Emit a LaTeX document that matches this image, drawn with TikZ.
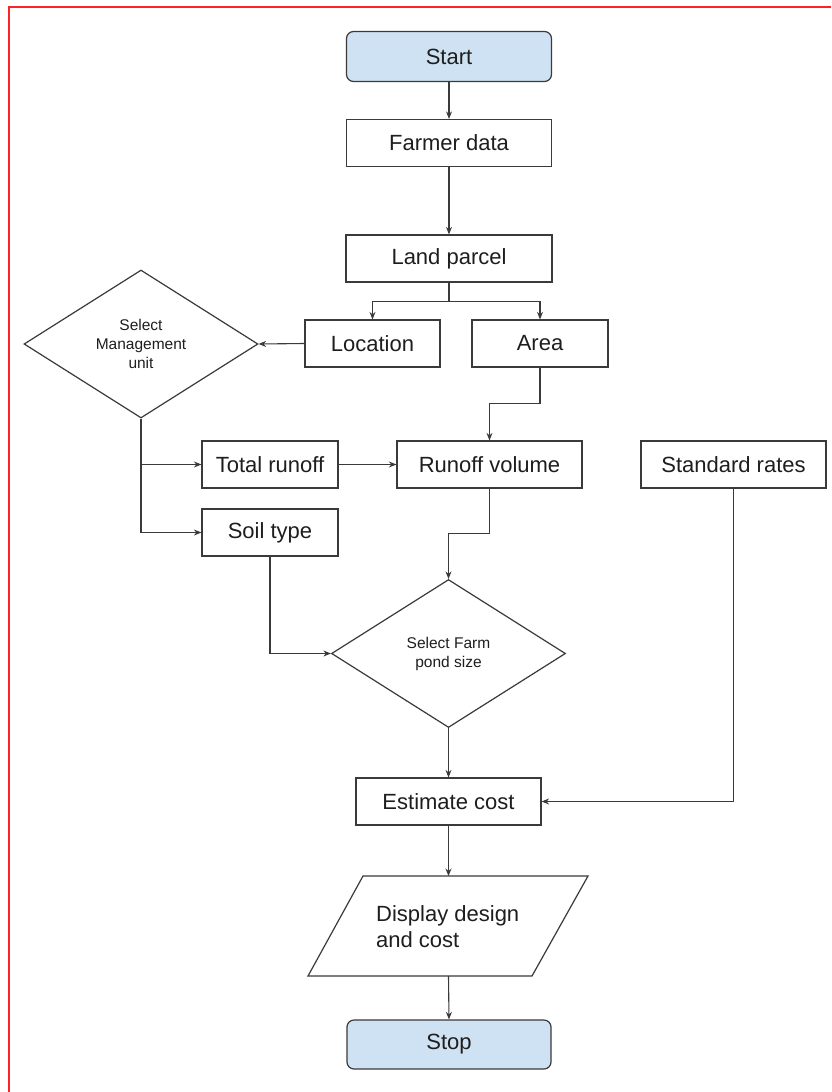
\documentclass[tikz,border=0pt]{standalone}
\usepackage{fontspec}
\setmainfont{Liberation Sans}
\usetikzlibrary{shapes.geometric,arrows.meta,calc}
\definecolor{edge}{HTML}{3A3A3A}
\definecolor{ink}{HTML}{1E1E1E}
\definecolor{termfill}{HTML}{CFE2F3}
\definecolor{frame}{HTML}{FF2222}

\begin{document}
\begin{tikzpicture}[x=1pt,y=-1pt,
  box/.style={draw=edge, line width=1.2pt, fill=white, text=ink, inner sep=0pt,
              minimum height=47pt, font=\fontsize{22}{25}\selectfont},
  term/.style={box, fill=termfill, rounded corners=7pt, minimum height=50pt},
  decision/.style={diamond, draw=edge, line width=1.2pt, fill=white, text=ink,
              inner sep=0pt, align=center, minimum width=234pt, minimum height=148pt,
              font=\fontsize{15.5}{19}\selectfont},
  flow/.style={draw=edge, line width=1.1pt, -{Stealth[length=7.5pt,width=6pt]}},
  wire/.style={draw=edge, line width=1.2pt}
]
% canvas
\fill[white] (0,0) rectangle (831,1092);
\useasboundingbox (0,0) rectangle (831,1092);
\draw[frame, line width=2.5pt] (9,1092) -- (9,7) -- (831,7);

% nodes
\node[term, minimum width=205pt] (start) at (449,56.5) {Start};
\node[box, minimum width=205pt] (farmer) at (449,143) {Farmer data};
\node[box, minimum width=206pt] (land) at (449,258.5) {Land parcel};
\node[box, minimum width=135pt] (loc) at (372.5,343.5) {Location};
\node[box, minimum width=136pt] (area) at (540,343.5) {Area};
\node[decision] (mgmt) at (141,344) {Select\\Management\\unit};
\node[box, minimum width=136pt] (total) at (270,464.5) {Total runoff};
\node[box, minimum width=136pt] (soil) at (270,532.5) {Soil type};
\node[box, minimum width=185pt] (runoff) at (489.5,464.5) {Runoff volume};
\node[box, minimum width=185pt] (rates) at (733.5,464.5) {Standard rates};
\node[decision] (pond) at (448.5,653.5) {Select Farm\\pond size};
\node[box, minimum width=185pt] (cost) at (448.5,801.5) {Estimate cost};

% input/output parallelogram
\draw[wire, fill=white] (363,876) -- (588,876) -- (532,976) -- (308,976) -- cycle;
\coordinate (dtop) at (448.5,876);
\coordinate (dbot) at (448.5,976);
\node[anchor=west, align=left, inner sep=0pt, text=ink, font=\fontsize{22}{26}\selectfont]
  (disp) at (376,927) {Display design\\and cost};

\node[term, minimum width=204pt, minimum height=49pt] (stop) at (449,1044.5) {Stop};

% connectors
\draw[flow] (start.south) -- (farmer.north);
\draw[flow] (farmer.south) -- (land.north);
\coordinate (split) at ($(land.south)+(0,18.5)$);
\draw[wire] (land.south) -- (split);
\draw[flow] (split) -| (loc.north);
\draw[flow] (split) -| (area.north);
\draw[flow] (loc.west) -- (mgmt.east);
\draw[flow] (area.south) -- ++(0,36) -| (runoff.north);
\draw[flow] (mgmt.south) |- (total.west);
\draw[flow] (mgmt.south) |- (soil.west);
\draw[flow] (total.east) -- (runoff.west);
\draw[flow] (runoff.south) -- ++(0,45) -| (pond.north);
\draw[flow] (soil.south) |- (pond.west);
\draw[flow] (pond.south) -- (cost.north);
\draw[flow] (rates.south) |- (cost.east);
\draw[flow] (cost.south) -- (dtop);
\draw[flow] (dbot) -- (stop.north);
\end{tikzpicture}
\end{document}
